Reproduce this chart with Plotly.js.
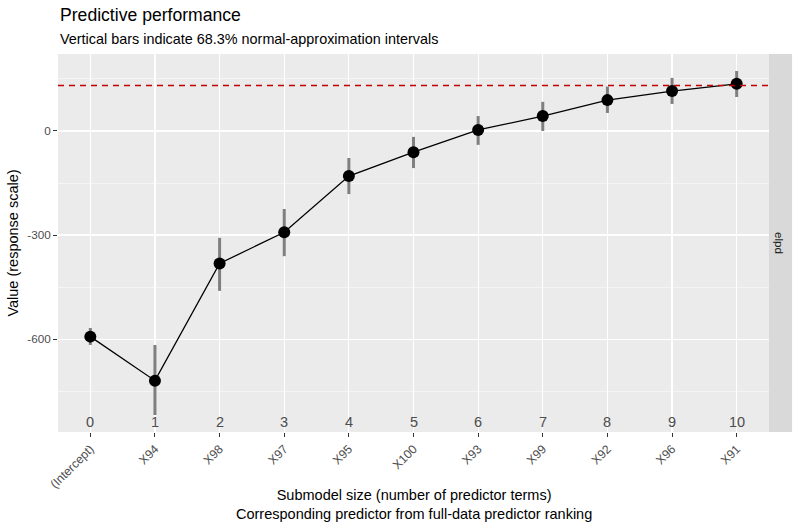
<!DOCTYPE html>
<html>
<head>
<meta charset="utf-8">
<script src="https://cdn.plot.ly/plotly-3.0.1.min.js"></script>
<style>
html,body{margin:0;padding:0;background:#fff;}
#chart{width:800px;height:528px;}
</style>
</head>
<body>
<div id="chart"></div>
<script>
// Data
const sizes = [0, 1, 2, 3, 4, 5, 6, 7, 8, 9, 10];
const predictors = ["(Intercept)", "X94", "X98", "X97", "X95", "X100", "X93", "X99", "X92", "X96", "X91"];
const elpd = [-593, -720, -382, -292, -130, -61, 3, 43, 89, 115, 136];
const lower = [-617, -819, -461, -361, -182, -107, -40, 0, 52, 78, 98];
const upper = [-568, -617, -308, -225, -78, -17, 43, 84, 128, 153, 173];
const referenceElpd = 131;
const yTicks = [-600, -300, 0];
const facetLabel = "elpd";

const grey = "#4D4D4D";
const font = "Liberation Sans, Arial, sans-serif";

const errTraces = sizes.map((s, i) => ({
  x: [s, s], y: [lower[i], upper[i]], mode: "lines",
  line: {color: "#7F7F7F", width: 3}, hoverinfo: "skip", showlegend: false
}));

const traces = [
  ...errTraces,
  {
    x: sizes, y: elpd, mode: "lines+markers",
    line: {color: "#000000", width: 1.3},
    marker: {color: "#000000", size: 12},
    showlegend: false
  }
];

const annotations = sizes.map(s => ({
  x: s, y: -840, xref: "x", yref: "y", text: String(s), showarrow: false,
  font: {family: font, size: 14.5, color: grey}, xanchor: "center", yanchor: "middle"
}));
annotations.push({
  x: 1.0155, y: 0.5, xref: "paper", yref: "paper", text: facetLabel, showarrow: false,
  textangle: 90, font: {family: font, size: 11.7, color: "#1A1A1A"}, xanchor: "center", yanchor: "middle"
});
annotations.push({
  x: 0, y: 1, xref: "paper", yref: "paper", xanchor: "left", yanchor: "bottom",
  yshift: 27, text: "Predictive performance", showarrow: false,
  font: {family: font, size: 17.6, color: "#000"}
});
annotations.push({
  x: 0, y: 1, xref: "paper", yref: "paper", xanchor: "left", yanchor: "bottom",
  yshift: 5, text: "Vertical bars indicate 68.3% normal-approximation intervals", showarrow: false,
  font: {family: font, size: 14.4, color: "#000"}
});
annotations.push({
  x: 0.5, y: 0, xref: "paper", yref: "paper", xanchor: "center", yanchor: "top",
  yshift: -53, text: "Submodel size (number of predictor terms)<br>Corresponding predictor from full-data predictor ranking",
  showarrow: false, font: {family: font, size: 14.5, color: "#000"}
});

const layout = {
  width: 800, height: 528,
  margin: {l: 57.5, r: 31, t: 54, b: 96},
  paper_bgcolor: "#FFFFFF",
  plot_bgcolor: "#EBEBEB",
  font: {family: font, color: grey},
  showlegend: false,
  xaxis: {
    range: [-0.5, 10.5], tickmode: "array", tickvals: sizes, ticktext: predictors,
    tickangle: -45, tickfont: {family: font, size: 12.2, color: grey},
    ticks: "outside", ticklen: 4, tickcolor: "#333333", tickwidth: 1,
    showgrid: true, gridcolor: "#FFFFFF", gridwidth: 1.1, zeroline: false, showline: false
  },
  yaxis: {
    range: [-868, 222], tickmode: "array", tickvals: yTicks, ticktext: yTicks.map(String),
    tickfont: {family: font, size: 11.7, color: grey},
    ticks: "outside", ticklen: 4, tickcolor: "#333333", tickwidth: 1,
    showgrid: true, gridcolor: "#FFFFFF", gridwidth: 1.1, zeroline: false, showline: false,
    minor: {tickmode: "array", tickvals: [-750, -450, -150, 150], showgrid: true, gridcolor: "#FFFFFF", gridwidth: 0.5, ticks: ""},
    title: {text: "Value (response scale)", font: {family: font, size: 14.5, color: "#000"}, standoff: 5}
  },
  shapes: [
    {type: "line", xref: "paper", yref: "y", x0: 0, x1: 1, y0: referenceElpd, y1: referenceElpd,
     line: {color: "#C00000", width: 1.6, dash: "6px,5px"}, layer: "above"},
    {type: "rect", xref: "paper", yref: "paper", x0: 1, x1: 1.0325, y0: 0, y1: 1,
     fillcolor: "#D9D9D9", line: {width: 0}, layer: "below"}
  ],
  annotations: annotations
};

Plotly.newPlot("chart", traces, layout, {displayModeBar: false, staticPlot: true});
</script>
</body>
</html>
